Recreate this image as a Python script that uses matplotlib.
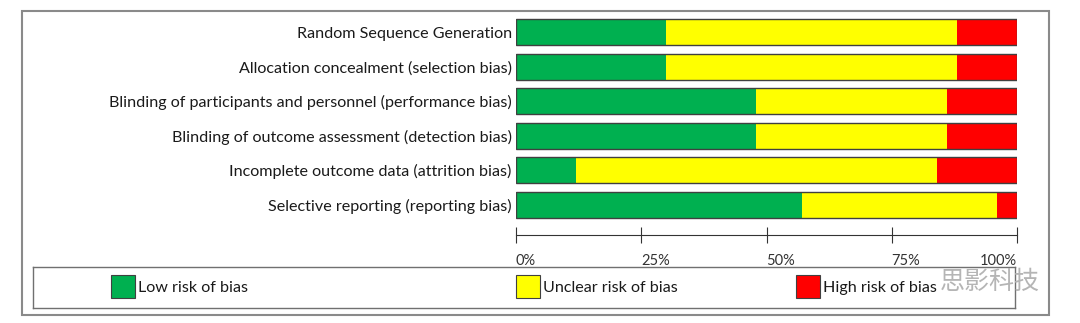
import matplotlib.pyplot as plt
from matplotlib.patches import Rectangle

# Data
domains = ['Random Sequence Generation',
           'Allocation concealment (selection bias)',
           'Blinding of participants and personnel (performance bias)',
           'Blinding of outcome assessment (detection bias)',
           'Incomplete outcome data (attrition bias)',
           'Selective reporting (reporting bias)']
low = [30, 30, 48, 48, 12, 57]
unclear = [58, 58, 38, 38, 72, 39]
high = [12, 12, 14, 14, 16, 4]
ticks = [0, 25, 50, 75, 100]
tick_labels = ['0%', '25%', '50%', '75%', '100%']
legend_names = ['Low risk of bias', 'Unclear risk of bias', 'High risk of bias']
colors = ['#00B050', '#FFFF00', '#FF0000']

plt.rcParams['font.family'] = ['Lato', 'DejaVu Sans']

W, H = 1080, 323
fig = plt.figure(figsize=(W / 100, H / 100), dpi=100)

# outer frame
fig.add_artist(Rectangle((22 / W, 1 - 315 / H), 1027 / W, 304 / H, transform=fig.transFigure,
                         fill=False, edgecolor='#8a8a8a', linewidth=1.5))

# bars
ax = fig.add_axes([516 / W, 1 - 222 / H, 501 / W, 207 / H])
y = list(range(len(domains)))
left2 = [a + b for a, b in zip(low, unclear)]
ax.barh(y, low, height=0.75, color=colors[0], linewidth=0)
ax.barh(y, unclear, left=low, height=0.75, color=colors[1], linewidth=0)
ax.barh(y, high, left=left2, height=0.75, color=colors[2], linewidth=0)
totals = [a + b + c for a, b, c in zip(low, unclear, high)]
ax.barh(y, totals, height=0.75, fill=False, edgecolor='#404040', linewidth=1)
ax.set_xlim(0, 100)
ax.set_ylim(5.5, -0.5)
ax.set_yticks(y)
ax.set_yticklabels(domains, fontsize=11.65, color='#1a1a1a')
ax.tick_params(axis='y', length=0, pad=3)
for s in ['top', 'right', 'left']:
    ax.spines[s].set_visible(False)
ax.spines['bottom'].set_position(('outward', 9.7))
ax.spines['bottom'].set_color('#333333')
ax.set_xticks(ticks)
ax.set_xticklabels(tick_labels, fontsize=10.5, color='#333333')
ax.tick_params(axis='x', direction='inout', length=12, color='#333333', pad=7)
for lbl in ax.get_xticklabels():
    lbl.set_horizontalalignment('left')
ax.get_xticklabels()[-1].set_horizontalalignment('right')

# legend box
lax = fig.add_axes([33 / W, 1 - 308 / H, 982 / W, 41 / H])
lax.set_xlim(33, 1015)
lax.set_ylim(308, 267)
lax.set_xticks([])
lax.set_yticks([])
for s in lax.spines.values():
    s.set_color('#707070')
    s.set_linewidth(1)
legend_x = [111, 516, 796]
for name, c, x0 in zip(legend_names, colors, legend_x):
    lax.add_patch(Rectangle((x0, 275), 24, 23, facecolor=c, edgecolor='#404040', linewidth=0.8))
    lax.text(x0 + 27, 288, name, va='center', ha='left', fontsize=11.65, color='#1a1a1a')

# watermark
fig.text(940 / W, 1 - 282 / H, '思影科技', fontsize=18, color='#b5b5b5',
         family=['Noto Sans CJK SC', 'DejaVu Sans'], va='center', ha='left', zorder=5)

fig.savefig('out.png', dpi=100)
